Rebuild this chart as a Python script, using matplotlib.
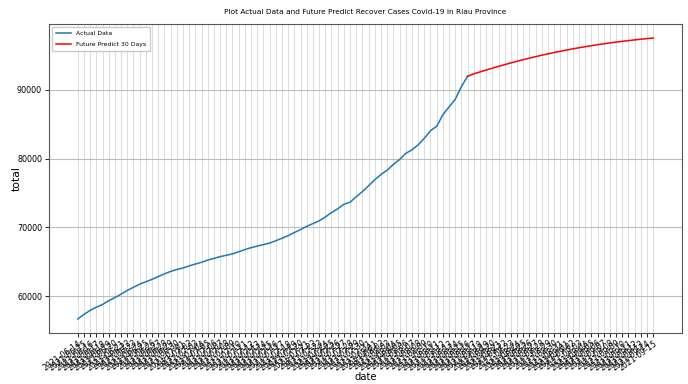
import matplotlib
matplotlib.use("Agg")
import matplotlib.pyplot as plt
from matplotlib.ticker import MultipleLocator
import pandas as pd

plt.rcParams['font.family'] = ['Liberation Sans Narrow', 'DejaVu Sans']

# Recovered cases (cumulative) - observed
actual_values = [
    56700, 57350, 57950, 58400, 58800, 59350, 59800, 60300, 60850, 61300,
    61750, 62100, 62450, 62850, 63250, 63600, 63880, 64100, 64400, 64680,
    64930, 65250, 65500, 65750, 65950, 66150, 66450, 66780, 67050, 67280,
    67500, 67720, 68050, 68420, 68800, 69250, 69680, 70150, 70550, 70950,
    71500, 72150, 72700, 73350, 73650, 74450, 75200, 76050, 76920, 77680,
    78300, 79150, 79850, 80750, 81250, 81980, 82930, 84050, 84680, 86350,
    87500, 88600, 90450, 91950,
]

# 30-day forecast, joined to the last observed value
forecast_values = [
    91950, 92300, 92580, 92850, 93120, 93390, 93640, 93890, 94130, 94360,
    94580, 94800, 95010, 95210, 95400, 95580, 95760, 95930, 96090, 96240,
    96390, 96530, 96660, 96790, 96910, 97020, 97130, 97230, 97330, 97420,
    97500,
]

start_date = "2021-06-14"
all_dates = pd.date_range(start_date, periods=len(actual_values) + len(forecast_values) - 1,
                          freq="D").strftime("%Y-%m-%d").tolist()
actual_dates = all_dates[:len(actual_values)]
forecast_dates = all_dates[len(actual_values) - 1:]

fig = plt.figure(figsize=(6.88, 3.84), dpi=100)
ax = fig.add_axes([0.0712, 0.1328, 0.9201, 0.8047])

ax.plot(actual_dates, actual_values, color="tab:blue", lw=1.1, label="Actual Data")
ax.plot(forecast_dates, forecast_values, color="red", lw=1.1, label="Future Predict 30 Days")

ax.set_title("Plot Actual Data and Future Predict Recover Cases Covid-19 in Riau Province",
             fontsize=5.3, pad=7)
ax.set_xlabel("date", fontsize=7.2, labelpad=0)
ax.set_ylabel("total", fontsize=7.8)
ax.yaxis.set_label_coords(-0.043, 0.5)
ax.yaxis.set_major_locator(MultipleLocator(10000))

ax.tick_params(axis="x", labelsize=5.6, length=3, width=0.6, pad=1)
ax.tick_params(axis="y", labelsize=5.8, length=3, width=0.6, pad=2)
plt.setp(ax.get_xticklabels(), rotation=36, ha="right", rotation_mode="anchor")

ax.grid(axis="x", color="#dcdcdc", lw=0.7)
ax.grid(axis="y", color="#bdbdbd", lw=0.8)
for sp in ax.spines.values():
    sp.set_color("#555555")
    sp.set_linewidth(0.8)

ax.legend(loc="upper left", fontsize=4.4, handlelength=2.5, borderpad=0.6,
          labelspacing=1.0, framealpha=1, edgecolor="#cccccc")

fig.savefig("out.png", dpi=100)
